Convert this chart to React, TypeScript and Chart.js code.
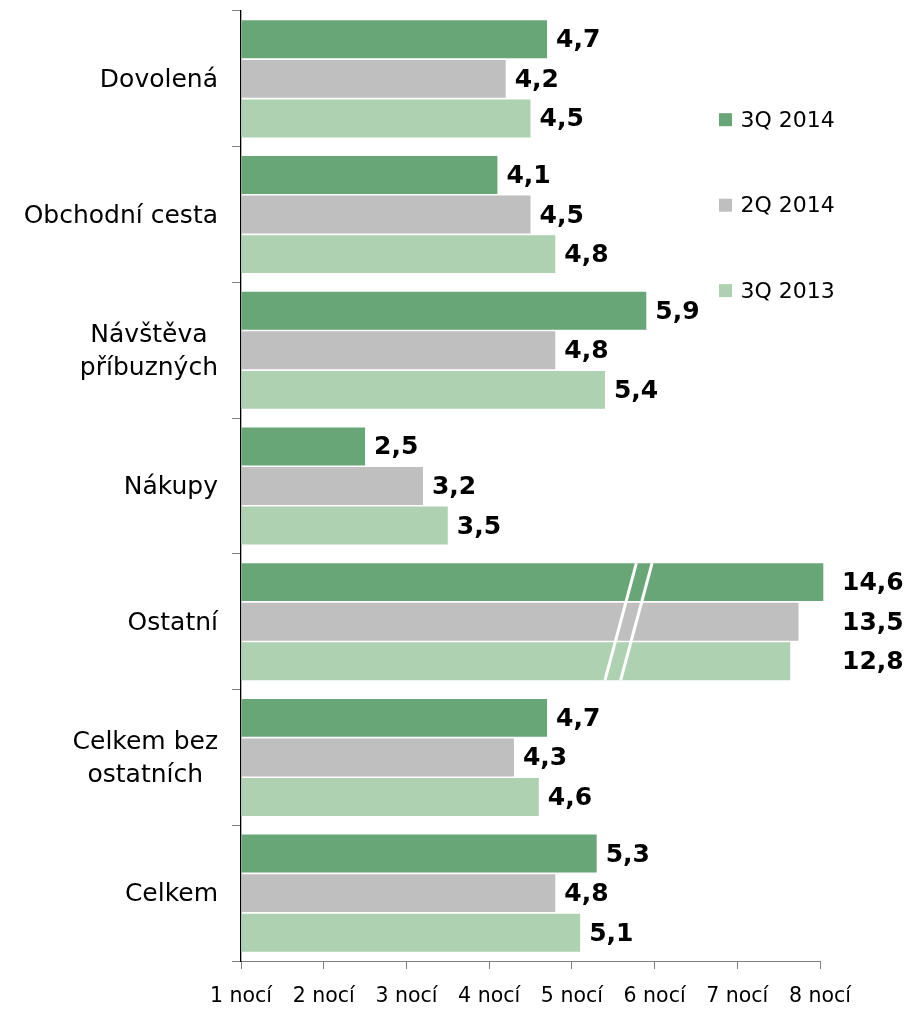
import React, { useEffect, useRef } from "react";
import { Chart, registerables } from "chart.js";

Chart.register(...registerables);

// ---- data ----
const categories: string[][] = [
  ["Dovolená"],
  ["Obchodní cesta"],
  ["Návštěva", "příbuzných"],
  ["Nákupy"],
  ["Ostatní"],
  ["Celkem bez", "ostatních"],
  ["Celkem"],
];
const seriesNames = ["3Q 2014", "2Q 2014", "3Q 2013"];
const q3_2014 = [4.7, 4.1, 5.9, 2.5, 14.6, 4.7, 5.3];
const q2_2014 = [4.2, 4.5, 4.8, 3.2, 13.5, 4.3, 4.8];
const q3_2013 = [4.5, 4.8, 5.4, 3.5, 12.8, 4.6, 5.1];
// drawn (truncated) lengths of the "Ostatní" bars, shown with an axis break
const ostatniDrawn = [8.04, 7.74, 7.64];
// axis break strokes: [value at top, value at bottom]
const breakLines = [
  [5.78, 5.4],
  [5.97, 5.59],
];
const xTickValues = [1, 2, 3, 4, 5, 6, 7, 8];
const xTickSuffix = " nocí";
const colors = ["#68A678", "#BFBFBF", "#AED1B1"];

const FONT = "'DejaVu Sans', Verdana, sans-serif";
const X_MIN = 1;
const X_MAX = 8;
const OSTATNI = 4;

const allSeries = [q3_2014, q2_2014, q3_2013];

const fmt = (v: number) => v.toFixed(1).replace(".", ",");

const categoryLabelsPlugin = {
  id: "categoryLabels",
  afterDraw(chart: any) {
    const { ctx } = chart;
    const y = chart.scales.y;
    const right = chart.chartArea.left - 23;
    const lh = 32.7;
    ctx.save();
    ctx.font = `25px ${FONT}`;
    ctx.fillStyle = "#000";
    ctx.textBaseline = "middle";
    ctx.textAlign = "center";
    categories.forEach((lines, i) => {
      const yc = y.getPixelForValue(i) + 1.5;
      const bw = Math.max(...lines.map((l) => ctx.measureText(l).width));
      const cx = right - bw / 2;
      lines.forEach((l, k) => {
        ctx.fillText(l, cx, yc + (k - (lines.length - 1) / 2) * lh);
      });
    });
    ctx.restore();
  },
};

const valueLabelsPlugin = {
  id: "valueLabels",
  afterDatasetsDraw(chart: any) {
    const { ctx, chartArea } = chart;
    ctx.save();
    ctx.font = `bold 25px ${FONT}`;
    ctx.fillStyle = "#000";
    ctx.textBaseline = "middle";
    ctx.textAlign = "left";
    allSeries.forEach((vals, di) => {
      const meta = chart.getDatasetMeta(di);
      meta.data.forEach((el: any, i: number) => {
        const v = vals[i];
        const x = v > X_MAX ? chartArea.right + 22 : el.x + 9;
        ctx.fillText(fmt(v), x, el.y + 1.5);
      });
    });
    ctx.restore();
  },
};

const axisBreakPlugin = {
  id: "axisBreak",
  afterDatasetsDraw(chart: any) {
    const { ctx } = chart;
    const xs = chart.scales.x;
    const top = chart.getDatasetMeta(0).data[OSTATNI] as any;
    const bot = chart.getDatasetMeta(2).data[OSTATNI] as any;
    const y0 = top.y - top.height / 2;
    const y1 = bot.y + bot.height / 2;
    ctx.save();
    ctx.strokeStyle = "#FFFFFF";
    ctx.lineWidth = 3;
    breakLines.forEach(([a, b]) => {
      ctx.beginPath();
      ctx.moveTo(xs.getPixelForValue(a), y0);
      ctx.lineTo(xs.getPixelForValue(b), y1);
      ctx.stroke();
    });
    ctx.restore();
  },
};

const legendPlugin = {
  id: "sideLegend",
  afterDraw(chart: any) {
    const { ctx } = chart;
    const left = 719;
    const size = 13;
    const centers = [119.7, 205.2, 290.6];
    ctx.save();
    ctx.font = `22px ${FONT}`;
    ctx.textBaseline = "middle";
    ctx.textAlign = "left";
    seriesNames.forEach((name, i) => {
      const cy = centers[i];
      ctx.fillStyle = colors[i];
      ctx.fillRect(left, cy - size / 2, size, size);
      ctx.fillStyle = "#000";
      ctx.fillText(name, left + size + 8.5, cy + 1.5);
    });
    ctx.restore();
  },
};

export default function App() {
  const ref = useRef<HTMLCanvasElement | null>(null);
  useEffect(() => {
    if (!ref.current) return;
    const datasets = allSeries.map((vals, di) => ({
      label: seriesNames[di],
      data: vals.map((v, i) => (i === OSTATNI ? ostatniDrawn[di] : v)),
      backgroundColor: colors[di],
      borderWidth: 0,
      base: X_MIN,
      barPercentage: 0.958,
      categoryPercentage: 0.875,
      clip: false as any,
    }));
    const chart = new Chart(ref.current, {
      type: "bar",
      data: {
        labels: categories.map((c) => c.join(" ")),
        datasets,
      },
      options: {
        indexAxis: "y",
        animation: false,
        responsive: false,
        devicePixelRatio: 1,
        layout: { padding: { top: 11, right: 90, left: 0, bottom: 0 } },
        plugins: {
          legend: { display: false },
          tooltip: { enabled: false },
        },
        scales: {
          x: {
            type: "linear",
            position: "bottom",
            min: X_MIN,
            max: X_MAX,
            afterBuildTicks(scale: any) {
              scale.ticks = xTickValues.map((v) => ({ value: v }));
            },
            afterFit(scale: any) {
              scale.height = 48;
              scale.paddingLeft = 0;
              scale.paddingRight = 0;
            },
            ticks: {
              callback: (v: any) => `${v}${xTickSuffix}`,
              font: { family: FONT, size: 20.5 },
              color: "#000",
              padding: 15,
              maxRotation: 0,
              autoSkip: false,
            },
            grid: {
              drawOnChartArea: false,
              drawTicks: true,
              tickLength: 8,
              color: "#7F7F7F",
            },
            border: { display: true, color: "#7F7F7F", width: 1 },
          },
          y: {
            type: "category",
            position: "left",
            afterFit(scale: any) {
              scale.width = 241;
              scale.paddingTop = 0;
              scale.paddingBottom = 0;
            },
            ticks: {
              display: false,
            },
            grid: {
              drawOnChartArea: false,
              drawTicks: true,
              tickLength: 9,
              offset: true,
              color: "#7F7F7F",
            },
            border: { display: true, color: "#000", width: 1.3 },
          },
        },
      },
      plugins: [axisBreakPlugin, valueLabelsPlugin, categoryLabelsPlugin, legendPlugin],
    });
    return () => chart.destroy();
  }, []);
  return (
    <div style={{ position: "fixed", left: 0, top: 0, width: 910, height: 1009, background: "#fff" }}>
      <canvas ref={ref} width={910} height={1009} style={{ display: "block" }} />
    </div>
  );
}
